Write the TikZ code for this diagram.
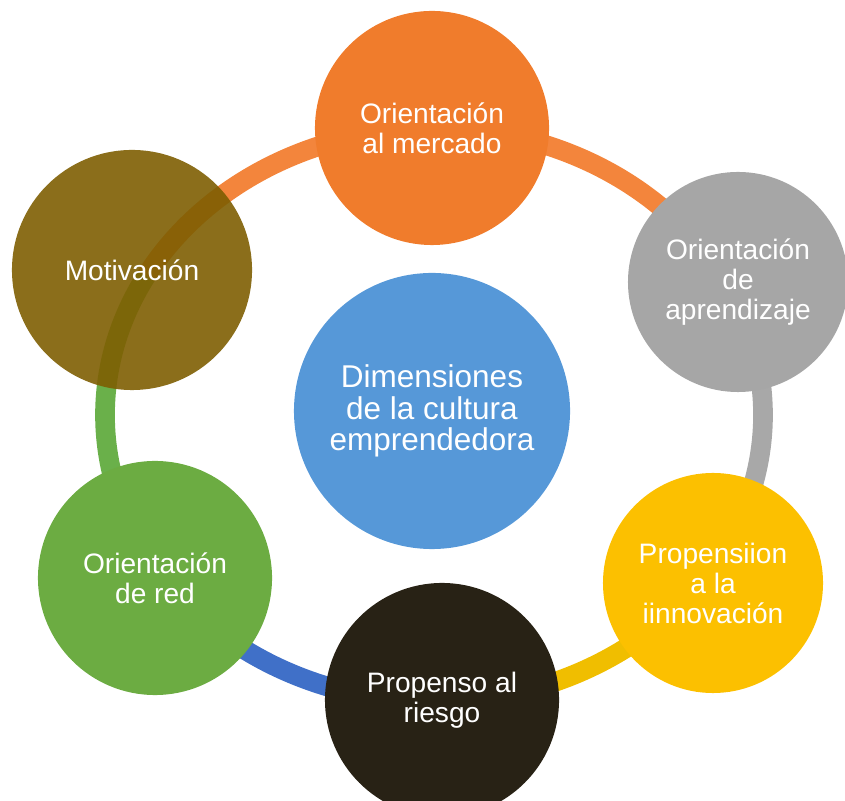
\documentclass[tikz,border=0pt]{standalone}
\usepackage{fontspec}
\setmainfont{Liberation Sans}
\definecolor{mercfill}{RGB}{240,124,44}
\definecolor{aprendfill}{RGB}{166,166,166}
\definecolor{innovfill}{RGB}{252,192,0}
\definecolor{riesgofill}{RGB}{40,34,21}
\definecolor{redfill}{RGB}{108,172,66}
\definecolor{motivfill}{RGB}{126,94,2}
\definecolor{dimfill}{RGB}{86,152,216}
\definecolor{ringorange}{RGB}{243,133,60}
\definecolor{ringgray}{RGB}{168,168,168}
\definecolor{ringyellow}{RGB}{240,190,0}
\definecolor{ringblue}{RGB}{64,112,200}
\definecolor{ringgreen}{RGB}{106,176,74}
\begin{document}
\begin{tikzpicture}[x=0.025cm,y=0.025cm,
    ring/.style={line width=14pt},
    bubble/.style={circle,inner sep=0pt,minimum size=5.85cm,text=white,align=center,
        font=\fontsize{20}{21.3}\selectfont},
    small/.style={minimum size=5.5cm}]
    \useasboundingbox (0,0) rectangle (845,800);
    \begin{scope}[shift={(434,385)}]
        \coordinate (mercpt) at (90:329 and 287);
        \coordinate (aprendpt) at (27:329 and 287);
        \coordinate (innovpt) at (-34:329 and 287);
        \coordinate (riesgopt) at (-89:329 and 287);
        \coordinate (redpt) at (-146:329 and 287);
        \coordinate (motivpt) at (151:329 and 287);
    \end{scope}
    \draw[ring,ringorange] (mercpt) arc[start angle=90,end angle=27,x radius=329,y radius=287];
    \draw[ring,ringgray] (aprendpt) arc[start angle=27,end angle=-34,x radius=329,y radius=287];
    \draw[ring,ringyellow] (innovpt) arc[start angle=-34,end angle=-89,x radius=329,y radius=287];
    \draw[ring,ringblue] (riesgopt) arc[start angle=-89,end angle=-146,x radius=329,y radius=287];
    \draw[ring,ringgreen] (redpt) arc[start angle=-146,end angle=-209,x radius=329,y radius=287];
    \draw[ring,ringorange] (motivpt) arc[start angle=151,end angle=90,x radius=329,y radius=287];
    \node[bubble,fill=dimfill,minimum size=6.9cm,font=\fontsize{22.4}{22.4}\selectfont]
        (dim) at (432,389) {Dimensiones\\de la cultura\\emprendedora};
    \node[bubble,fill=mercfill] (merc) at (432,672) {Orientación\\al mercado};
    \node[bubble,small,fill=aprendfill] (aprend) at (738,518) {Orientación\\de\\aprendizaje};
    \node[bubble,small,fill=innovfill] (innov) at (713,217) {Propensiion\\a la\\iinnovación};
    \node[bubble,fill=riesgofill] (riesgo) at (442,100) {Propenso al\\riesgo};
    \node[bubble,fill=redfill] (red) at (155,222) {Orientación\\de red};
    \node[bubble,fill=motivfill,fill opacity=0.9,text opacity=1,minimum size=6cm] (motiv) at (132,530) {Motivación};
\end{tikzpicture}
\end{document}
